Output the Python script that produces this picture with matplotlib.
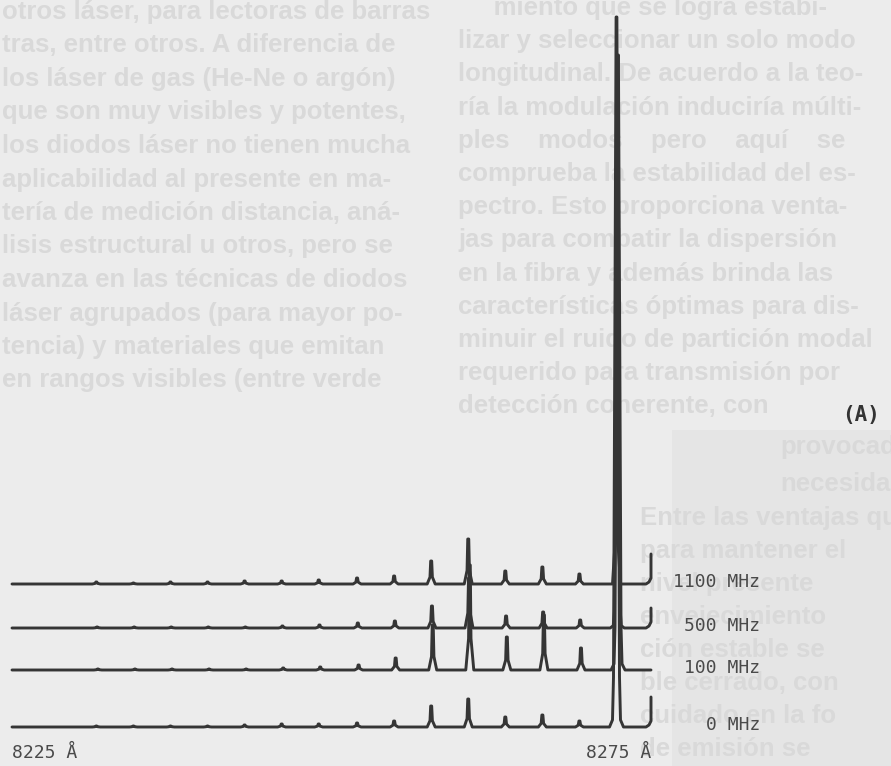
import matplotlib.pyplot as plt
from matplotlib.patches import Rectangle

# longitudinal modes of the laser (Angstrom)
modes = [8231.6, 8234.5, 8237.4, 8240.3, 8243.2, 8246.1, 8249.0,
         8252.0, 8254.9, 8257.8, 8260.7, 8263.6, 8266.5, 8269.4, 8272.3]

labels = ['1100 MHz', '500 MHz', '100 MHz', '0 MHz']
peaks_1100 = [2, 1, 2, 2, 3, 3, 4, 6, 8, 23, 45, 13, 17, 10, 150]
peaks_500 = [1, 1, 1, 1, 1, 2, 3, 5, 7, 22, 50, 12, 16, 8, 241]
peaks_100 = [1, 1, 1, 1, 1, 2, 3, 5, 12, 45, 105, 33, 55, 22, 615]
peaks_0 = [1, 1, 1, 1, 2, 3, 3, 4, 6, 21, 28, 10, 12, 6, 710]
drift = [0.0, 0.06, 0.12, 0.0]     # small shift of each trace (A)
end_rise = [30, 20, 0, 30]         # pen upturn at the end of the scan
wl_range = [8225, 8275]

# faint text of the page behind the figure
left_col = [
    "otros láser, para lectoras de barras",
    "tras, entre otros. A diferencia de",
    "los láser de gas (He-Ne o argón)",
    "que son muy visibles y potentes,",
    "los diodos láser no tienen mucha",
    "aplicabilidad al presente en ma-",
    "tería de medición distancia, aná-",
    "lisis estructural u otros, pero se",
    "avanza en las técnicas de diodos",
    "láser agrupados (para mayor po-",
    "tencia) y materiales que emitan",
    "en rangos visibles (entre verde",
]
right_col = [
    "     miento que se logra estabi-",
    "lizar y seleccionar un solo modo",
    "longitudinal. De acuerdo a la teo-",
    "ría la modulación induciría múlti-",
    "ples    modos    pero    aquí    se",
    "comprueba la estabilidad del es-",
    "pectro. Esto proporciona venta-",
    "jas para combatir la dispersión",
    "en la fibra y además brinda las",
    "características óptimas para dis-",
    "minuir el ruido de partición modal",
    "requerido para transmisión por",
    "detección coherente, con",
]
lower_col = [
    "Entre las ventajas que",
    "para mantener el",
    "nivel presente",
    "envejecimiento",
    "ción estable se",
    "ble cerrado, con",
    "cuidado en la fo",
    "de emisión se",
]

series = [peaks_1100, peaks_500, peaks_100, peaks_0]
offsets = [182, 138, 96, 39]

W, H = 891, 766
fig = plt.figure(figsize=(W / 100, H / 100), dpi=100, facecolor='#ececec')

# page background with the show-through text
bg = fig.add_axes([0, 0, 1, 1])
bg.set_xlim(0, W)
bg.set_ylim(H, 0)
bg.axis('off')
bg.add_patch(Rectangle((672, 430), W - 672, H - 430, color='#e5e5e5', lw=0))


def column(lines, x, y0, dy, box):
    clip = Rectangle((box[0], box[1]), box[2] - box[0], box[3] - box[1],
                     transform=bg.transData)
    for i, s in enumerate(lines):
        t = bg.text(x, y0 + i * dy, s, fontsize=18.5, color='#d9d9d9',
                    family='Liberation Sans', fontweight='bold',
                    va='center', ha='left')
        t.set_clip_path(clip)


column(left_col, 2, 12, 33.5, (0, 0, 434, 400))
column(right_col, 458, 8, 33.2, (450, 0, W, 430))
column(["provocado", "necesidad"], 780, 447, 37, (640, 430, W, 500))
column(lower_col, 640, 518, 33, (630, 500, W, H))

# spectra
ax = fig.add_axes([0, 0, 1, 1], facecolor='none')
a_px = (wl_range[1] - wl_range[0]) / 639.0
ax.set_xlim(wl_range[0] - 12 * a_px, wl_range[0] + (W - 12) * a_px)
ax.set_ylim(0, H)
ax.axis('off')

small = [(-4, 0), (-1.2, 0.3), (-0.5, 1), (0.5, 1), (1.2, 0.3), (4, 0)]
big = [(-7, 0), (-4, 0.01), (-3.0, 0.07), (-0.4, 1), (0.4, 1), (3.0, 0.07),
       (4, 0.01), (7, 0)]

for heights, base, sh, rise, lab in zip(series, offsets, drift, end_rise, labels):
    xs = [wl_range[0]]
    ys = [base]
    for m, h in zip(modes, heights):
        prof = big if h > 200 else small
        for dx, f in prof:
            xs.append(m + sh + dx * a_px)
            ys.append(base + f * h)
    x1 = wl_range[1]
    if rise > 0:
        xs += [x1 - 5 * a_px, x1 - 2 * a_px, x1, x1]
        ys += [base, base + 2, base + 6, base + rise]
    else:
        xs.append(x1)
        ys.append(base)
    ax.plot(xs, ys, color='#353535', lw=2.1, solid_joinstyle='round',
            solid_capstyle='round')
    ax.text(x1 + 109 * a_px, base + 2, lab, family='DejaVu Sans Mono',
            fontsize=13, color='#4a4a4a', ha='right', va='center')

ax.text(wl_range[0], 13, '8225 Å', family='DejaVu Sans Mono', fontsize=13,
        color='#4a4a4a', ha='left', va='center')
ax.text(wl_range[1], 13, '8275 Å', family='DejaVu Sans Mono', fontsize=13,
        color='#4a4a4a', ha='right', va='center')
fig.text(842 / W, 1 - 415 / H, '(A)', family='DejaVu Sans Mono', fontsize=15,
         fontweight='bold', color='#333333', ha='left', va='center')

fig.savefig('out.png', dpi=100, facecolor=fig.get_facecolor())
